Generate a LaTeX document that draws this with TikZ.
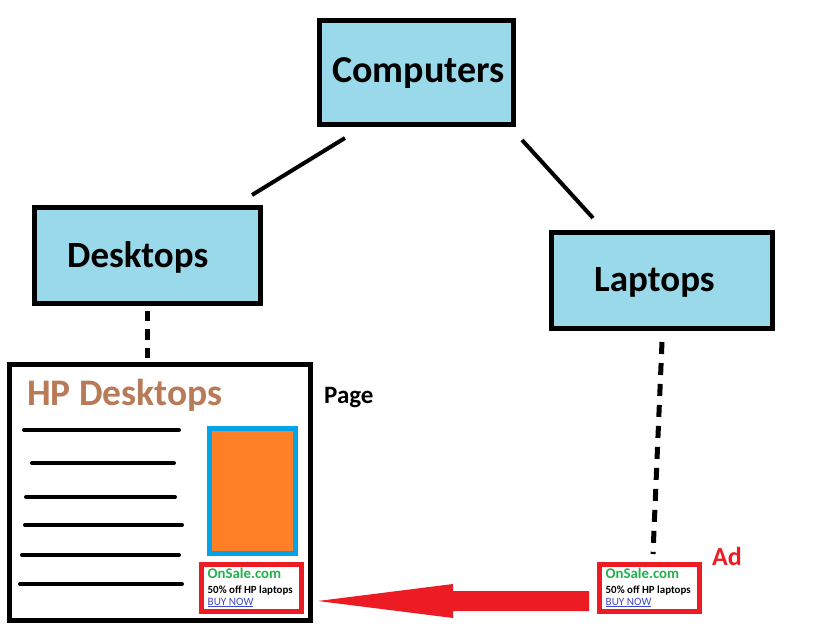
\documentclass[tikz,border=0pt]{standalone}
\usepackage{fontspec}
\setmainfont{Carlito}
\definecolor{boxblue}{HTML}{99D9EA}
\definecolor{paintblue}{HTML}{00A2E8}
\definecolor{paintorange}{HTML}{FF7F27}
\definecolor{paintred}{HTML}{ED1C24}
\definecolor{paintgreen}{HTML}{22B14C}
\definecolor{paintbrown}{HTML}{B97A57}
\definecolor{paintindigo}{HTML}{3F48CC}
\tikzset{
  catbox/.style={draw=black, line width=5pt, fill=boxblue, outer sep=0pt, inner sep=0pt},
  bigtext/.style={font=\fontsize{37}{40}\selectfont\bfseries, anchor=base west, inner sep=0pt},
  treeline/.style={line width=4pt, black},
  dashline/.style={line width=5pt, black, dash pattern=on 10.5pt off 8pt},
  textline/.style={line width=4pt, black, line cap=round},
  pagebox/.style={draw=black, line width=5pt, fill=white, outer sep=0pt, inner sep=0pt},
  adbox/.style={draw=paintred, line width=5pt, fill=white, outer sep=0pt, inner sep=0pt, minimum width=100pt, minimum height=47pt},
  adtitle/.style={font=\fontsize{14.8}{16}\selectfont\bfseries, text=paintgreen, anchor=base west, inner sep=0pt},
  adoffer/.style={font=\fontsize{10.9}{12}\selectfont\bfseries, anchor=base west, inner sep=0pt},
  adlink/.style={font=\fontsize{11.2}{12}\selectfont, text=paintindigo, anchor=base west, inner sep=0pt},
  bigarrow/.style={fill=paintred, draw=none}
}
\begin{document}
\begin{tikzpicture}[x=1pt, y=-1pt]
\useasboundingbox (0,0) rectangle (839,631);

% category boxes
\node[catbox, minimum width=194pt, minimum height=104pt] (comp) at (416.5,72.5) {};
\node[catbox, minimum width=226pt, minimum height=96pt] (desk) at (147.5,255.5) {};
\node[catbox, minimum width=221pt, minimum height=96pt] (lap) at (662,280.5) {};
\node[bigtext, font=\fontsize{38}{40}\selectfont\bfseries] (comptxt) at (332,83) {Computers};
\node[bigtext] (desktxt) at (67,268) {Desktops};
\node[bigtext] (laptxt) at (594,292) {Laptops};

% tree lines
\coordinate (cl1) at (345,138);
\coordinate (cl2) at (252,195);
\coordinate (cr1) at (522,140);
\coordinate (cr2) at (593,218);
\draw[treeline] (cl1) -- (cl2);
\draw[treeline] (cr1) -- (cr2);

% page
\node[pagebox, minimum width=301pt, minimum height=256pt] (page) at (160,492.5) {};
\node[font=\fontsize{37.5}{40}\selectfont\bfseries, text=paintbrown, anchor=base west, inner sep=0pt] (pagetitle) at (27,406) {HP Desktops};
\node[font=\fontsize{25}{28}\selectfont\bfseries, anchor=base west, inner sep=0pt] (pagelabel) at (324,403) {Page};
\draw[textline] (24,430) -- (179,430);
\draw[textline] (32,463) -- (174,463);
\draw[textline] (26,497) -- (175,497);
\draw[textline] (25,525) -- (182,525);
\draw[textline] (22,555) -- (179,555);
\draw[textline] (20,584) -- (182,584);
\node[draw=paintblue, line width=5pt, fill=paintorange, minimum width=86pt, minimum height=125pt, inner sep=0pt, outer sep=0pt] (image) at (252.5,491) {};

% ad inside page
\node[adbox] (adP) at (251.5,588) {};
\node[adtitle] (adPt) at (207.5,578) {OnSale.com};
\node[adoffer] (adPo) at (207.5,593) {50\% off HP laptops};
\node[adlink] (adPl) at (207.5,605) {\underline{BUY NOW}};

% standalone ad
\node[adbox] (adR) at (649.5,588) {};
\node[adtitle] (adRt) at (605.5,578) {OnSale.com};
\node[adoffer] (adRo) at (605.5,593) {50\% off HP laptops};
\node[adlink] (adRl) at (605.5,605) {\underline{BUY NOW}};
\node[font=\fontsize{26}{28}\selectfont\bfseries, text=paintred, anchor=base west, inner sep=0pt] (adlabel) at (712,565) {Ad};

% dashed connectors
\draw[dashline] ([yshift=-7.5pt]desk.south) -- ([xshift=-12.5pt, yshift=6.5pt]page.north);
\draw[dashline, dash pattern=on 12pt off 9pt] ([yshift=-13.5pt]lap.south) -- ([xshift=3.5pt, yshift=10.5pt]adR.north);

% big red arrow from the ad to the ad on the page
\coordinate (arrS) at ([xshift=-10.5pt, yshift=-13pt]adR.west);
\coordinate (arrT) at ([xshift=16.5pt, yshift=-13pt]adP.east);
\fill[bigarrow] (arrT) -- ++(135,-17) -- ++(0,7) -- ([yshift=10pt]arrS)
  -- ([yshift=-10pt]arrS) -- ([xshift=135pt, yshift=-10pt]arrT) -- ++(0,7) -- cycle;
\end{tikzpicture}
\end{document}
